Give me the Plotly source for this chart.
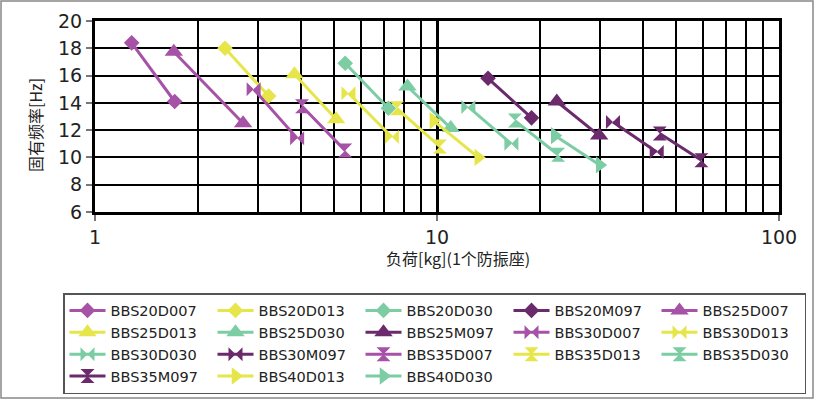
import plotly.graph_objects as go

series_names = [
    "BBS20D007", "BBS20D013", "BBS20D030", "BBS20M097", "BBS25D007",
    "BBS25D013", "BBS25D030", "BBS25M097", "BBS30D007", "BBS30D013",
    "BBS30D030", "BBS30M097", "BBS35D007", "BBS35D013", "BBS35D030",
    "BBS35M097", "BBS40D013", "BBS40D030",
]
load_kg = [
    [1.28, 1.71], [2.40, 3.22], [5.39, 7.21], [14.1, 18.9], [1.70, 2.71],
    [3.83, 5.07], [8.20, 10.97], [22.4, 29.8], [2.91, 3.90], [5.51, 7.38],
    [12.35, 16.5], [32.7, 43.9], [4.03, 5.39], [7.63, 10.2], [16.9, 22.6],
    [44.8, 59.3], [9.76, 13.2], [22.1, 29.9],
]
freq_hz = [
    [18.4, 14.1], [18.0, 14.5], [16.9, 13.6], [15.8, 12.9], [17.75, 12.5],
    [16.1, 12.8], [15.2, 12.15], [14.1, 11.6], [15.0, 11.4], [14.7, 11.5],
    [13.7, 11.0], [12.6, 10.4], [13.75, 10.5], [13.6, 10.8], [12.7, 10.2],
    [11.75, 9.8], [12.7, 10.0], [11.6, 9.45],
]
x_tick_vals = [1, 10, 100]
x_tick_text = ["1", "10", "100"]
x_minor_vals = [2, 3, 4, 5, 6, 7, 8, 9, 20, 30, 40, 50, 60, 70, 80, 90]
y_tick_vals = [6, 8, 10, 12, 14, 16, 18, 20]

PURPLE = "#A652A6"
YELLOW = "#E6E64A"
TEAL = "#7CCDA4"
DARK = "#6B2A6B"
series_colors = [
    PURPLE, YELLOW, TEAL, DARK, PURPLE,
    YELLOW, TEAL, DARK, PURPLE, YELLOW,
    TEAL, DARK, PURPLE, YELLOW, TEAL,
    DARK, YELLOW, TEAL,
]
series_symbols = [
    "diamond", "diamond", "diamond", "diamond", "triangle-up",
    "triangle-up", "triangle-up", "triangle-up", "bowtie", "bowtie",
    "bowtie", "bowtie", "hourglass", "hourglass", "hourglass",
    "hourglass", "triangle-right", "triangle-right",
]
symbol_size = {"diamond": 12, "triangle-up": 16, "bowtie": 14,
               "hourglass": 14, "triangle-right": 15}

fig = go.Figure()
for name, xs, ys, c, s in zip(series_names, load_kg, freq_hz, series_colors, series_symbols):
    fig.add_trace(go.Scatter(
        x=xs, y=ys, name=name, mode="lines+markers",
        line=dict(color=c, width=3),
        marker=dict(symbol=s, color=c, size=symbol_size[s], line=dict(width=0)),
    ))

W, H = 814, 399
L, R, T, B = 95, 35, 21, 187
pw, ph = W - L - R, H - T - B

def px_x(p):
    return (p - L) / pw

def px_y(p):
    return (H - B - p) / ph

fig.update_layout(
    width=W, height=H,
    margin=dict(l=L, r=R, t=T, b=B, autoexpand=False),
    paper_bgcolor="white", plot_bgcolor="white",
    font=dict(family="DejaVu Sans", color="#222"),
    showlegend=True,
    legend=dict(
        orientation="h", x=px_x(63), y=px_y(293), xanchor="left", yanchor="top",
        entrywidth=97, entrywidthmode="pixels",
        font=dict(family="DejaVu Sans", size=14.5, color="#222"),
        bordercolor="#555", borderwidth=1.5, bgcolor="white",
        itemwidth=36,
    ),
    xaxis=dict(
        type="log", range=[0, 2],
        tickvals=x_tick_vals, ticktext=x_tick_text,
        tickfont=dict(family="DejaVu Sans", size=19, color="#222"),
        ticks="outside", ticklen=6, tickwidth=1.5, tickcolor="#777",
        showgrid=True, gridcolor="black", gridwidth=3,
        showline=True, linecolor="black", linewidth=3, mirror=True,
        minor=dict(tickvals=x_minor_vals, showgrid=True, gridcolor="black",
                   gridwidth=2, ticks=""),
        zeroline=False,
    ),
    yaxis=dict(
        range=[6, 20], tickvals=y_tick_vals,
        tickfont=dict(family="DejaVu Sans", size=19, color="#222"),
        ticks="outside", ticklen=6, tickwidth=1.5, tickcolor="#777",
        showgrid=True, gridcolor="black", gridwidth=2,
        showline=True, linecolor="black", linewidth=3, mirror=True,
        zeroline=False,
    ),
    annotations=[
        dict(text="负荷[kg](1个防振座)", xref="paper", yref="paper",
             x=px_x(458), y=px_y(258), xanchor="center", yanchor="middle",
             showarrow=False,
             font=dict(family="Noto Sans CJK SC", size=16, color="#222")),
        dict(text="固有频率[Hz]", xref="paper", yref="paper",
             x=px_x(35), y=px_y(125), xanchor="center", yanchor="middle",
             showarrow=False, textangle=-90,
             font=dict(family="Noto Sans CJK SC", size=16, color="#222")),
    ],
    shapes=[
        dict(type="rect", xref="paper", yref="paper",
             x0=px_x(1), x1=px_x(813), y0=px_y(398), y1=px_y(1),
             line=dict(color="#888", width=1.5), layer="below"),
    ],
)

fig.write_html(
    "out.html",
    config={"displayModeBar": False},
    post_script="document.body.style.margin='0px';document.body.style.overflow='hidden';",
)
